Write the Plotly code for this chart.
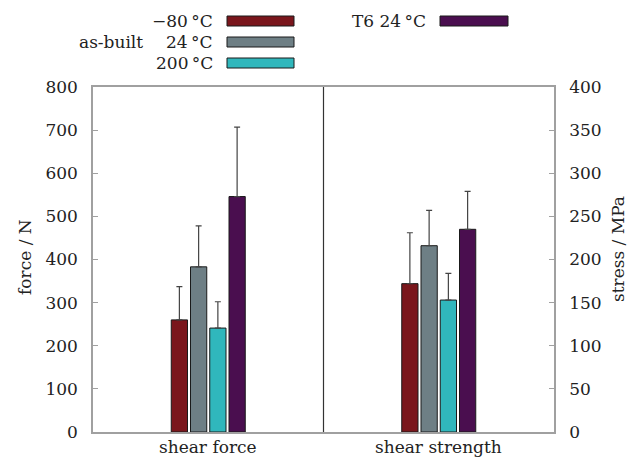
import plotly.graph_objects as go

categories = ["shear force", "shear strength"]
series_names = ["\u221280\u2009\u00b0C", "24\u2009\u00b0C", "200\u2009\u00b0C", "T6 24\u2009\u00b0C"]
colors = ["#7a161c", "#6e7f85", "#30b7bc", "#4a0e4f"]

# shear force (N) on left axis, shear strength (MPa) on right axis
force_vals = [260, 383, 241, 546]
force_err = [77, 95, 61, 161]
stress_vals = [172, 216, 153, 235]
stress_err = [59, 41, 31, 44]

left_ticks = [0, 100, 200, 300, 400, 500, 600, 700, 800]
right_ticks = [0, 50, 100, 150, 200, 250, 300, 350, 400]

FONT = "DejaVu Serif"
W, H = 631, 459
L, R, T, B = 93, 77, 87, 27

pitch = 0.0835
bw = 0.0705
start = -0.1605

fig = go.Figure()
for i, name in enumerate(series_names):
    off = start + i * pitch
    fig.add_trace(go.Bar(
        x=[categories[0]], y=[force_vals[i]], name=name,
        error_y=dict(type="data", symmetric=False, array=[force_err[i]], arrayminus=[0],
                     color="#444444", thickness=1.2, width=3),
        marker=dict(color=colors[i], line=dict(color="#1a1a1a", width=1)),
        width=bw, offset=off, yaxis="y", showlegend=False))
    fig.add_trace(go.Bar(
        x=[categories[1]], y=[stress_vals[i]], name=name,
        error_y=dict(type="data", symmetric=False, array=[stress_err[i]], arrayminus=[0],
                     color="#444444", thickness=1.2, width=3),
        marker=dict(color=colors[i], line=dict(color="#1a1a1a", width=1)),
        width=bw, offset=off, yaxis="y2", showlegend=False))

axis_col = "#a0a0a0"
fig.update_layout(
    width=W, height=H,
    margin=dict(l=L, r=R, t=T, b=B, autoexpand=False),
    paper_bgcolor="white", plot_bgcolor="white",
    barmode="overlay",
    font=dict(family=FONT, size=17, color="#222222"),
    xaxis=dict(type="category", categoryorder="array", categoryarray=categories,
               range=[-0.5, 1.5], showline=True, linecolor=axis_col, linewidth=1.5,
               mirror=True, ticks="", showgrid=False, zeroline=False,
               showticklabels=False, automargin=False),
    yaxis=dict(range=[0, 800], tickvals=left_ticks, showline=True, linecolor=axis_col,
               linewidth=1.5, ticks="inside", ticklen=5, tickcolor=axis_col,
               showgrid=False, zeroline=False, ticklabelstandoff=10, automargin=False),
    yaxis2=dict(range=[0, 400], tickvals=right_ticks, overlaying="y", side="right",
                showline=True, linecolor=axis_col, linewidth=1.5, ticks="inside",
                ticklen=5, tickcolor=axis_col, showgrid=False, zeroline=False,
                ticklabelstandoff=10, automargin=False),
)

pw = W - L - R
ph = H - T - B

def px_x(x):
    return (x - L) / pw

def px_y(y):
    return (H - B - y) / ph

# category labels below the axis
for c in categories:
    fig.add_annotation(text=c, xref="x", yref="paper", x=c, y=0, yanchor="top",
                       yshift=-3, showarrow=False)

# separator line between groups
fig.add_shape(type="line", xref="x", yref="paper", x0=0.5, x1=0.5, y0=0, y1=1,
              line=dict(color="#333333", width=1.2))

# axis titles
fig.add_annotation(text="force / N", textangle=-90, xref="paper", yref="paper",
                   x=px_x(25), y=px_y(257), xanchor="center", yanchor="middle",
                   showarrow=False)
fig.add_annotation(text="stress / MPa", textangle=-90, xref="paper", yref="paper",
                   x=px_x(618), y=px_y(249), xanchor="center", yanchor="middle",
                   showarrow=False)

# gnuplot-style legend
legend_rows = [(series_names[0], colors[0], 215, 227, 294, 21),
               (series_names[1], colors[1], 215, 227, 294, 42),
               (series_names[2], colors[2], 215, 227, 294, 63),
               (series_names[3], colors[3], 428, 440, 508, 21)]
for text, col, tx, bx0, bx1, cy in legend_rows:
    fig.add_annotation(text=text, xref="paper", yref="paper", x=px_x(tx), y=px_y(cy),
                       xanchor="right", yanchor="middle", showarrow=False)
    fig.add_shape(type="rect", xref="paper", yref="paper",
                  x0=px_x(bx0), x1=px_x(bx1), y0=px_y(cy - 5), y1=px_y(cy + 5),
                  fillcolor=col, line=dict(color="#1a1a1a", width=1))
fig.add_annotation(text="as-built", xref="paper", yref="paper", x=px_x(145), y=px_y(42),
                   xanchor="right", yanchor="middle", showarrow=False)

fig.write_html("out.html")
